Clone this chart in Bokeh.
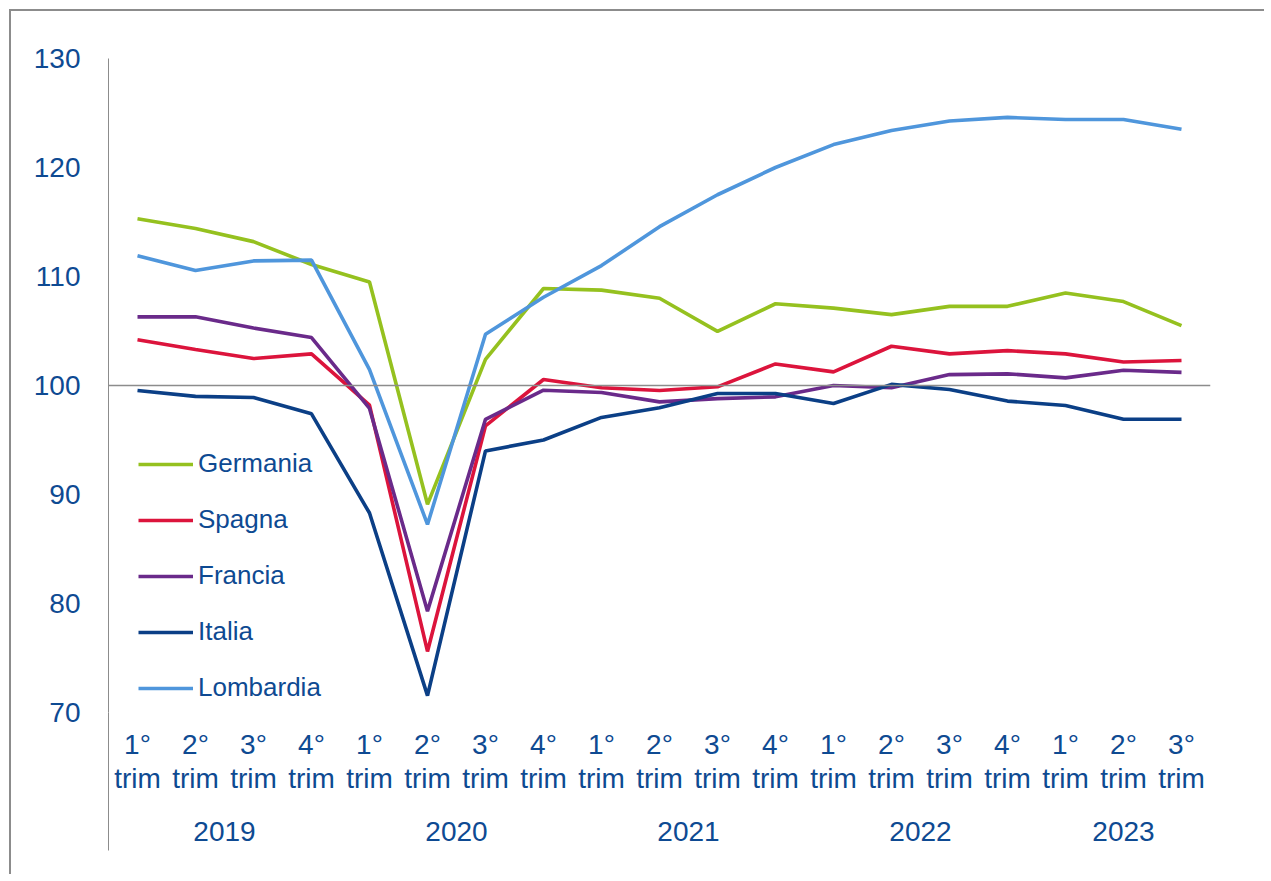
from bokeh.plotting import figure
from bokeh.models import Range1d, FixedTicker, LinearAxis, Span, Legend, LegendItem
from bokeh.embed import file_html
from bokeh.resources import INLINE

# ---- data ----
quarter_labels = ["1°\ntrim", "2°\ntrim", "3°\ntrim", "4°\ntrim",
                  "1°\ntrim", "2°\ntrim", "3°\ntrim", "4°\ntrim",
                  "1°\ntrim", "2°\ntrim", "3°\ntrim", "4°\ntrim",
                  "1°\ntrim", "2°\ntrim", "3°\ntrim", "4°\ntrim",
                  "1°\ntrim", "2°\ntrim", "3°\ntrim"]
years = ["2019", "2020", "2021", "2022", "2023"]
quarters_per_year = [4, 4, 4, 4, 3]

germania = [115.3, 114.4, 113.2, 111.1, 109.5, 89.1, 102.4, 108.9, 108.75, 108.0,
            104.97, 107.5, 107.1, 106.5, 107.26, 107.26, 108.48, 107.7, 105.5]
spagna = [104.2, 103.3, 102.47, 102.9, 98.2, 75.6, 96.3, 100.55, 99.8, 99.54,
          99.88, 101.98, 101.25, 103.6, 102.9, 103.2, 102.9, 102.16, 102.3]
francia = [106.3, 106.3, 105.27, 104.4, 97.9, 79.3, 96.9, 99.57, 99.36, 98.5,
           98.8, 98.96, 100.0, 99.8, 101.0, 101.07, 100.7, 101.4, 101.2]
italia = [99.54, 99.0, 98.9, 97.4, 88.3, 71.55, 94.0, 95.0, 97.07, 97.96,
          99.27, 99.27, 98.35, 100.1, 99.63, 98.57, 98.17, 96.9, 96.9]
lombardia = [111.9, 110.55, 111.43, 111.5, 101.46, 87.25, 104.7, 108.1, 111.0, 114.57,
             117.5, 120.0, 122.1, 123.4, 124.27, 124.6, 124.4, 124.4, 123.5]

series_names = ["Germania", "Spagna", "Francia", "Italia", "Lombardia"]
series_values = [germania, spagna, francia, italia, lombardia]
series_colors = ["#95C11F", "#DC143C", "#6A2A8A", "#0B3F86", "#4F96DC"]

y_ticks = [70, 80, 90, 100, 110, 120, 130]

# ---- derived ----
x = list(range(len(quarter_labels)))
year_centers = []
start = 0
for n in quarters_per_year:
    year_centers.append(start + (n - 1) / 2)
    start += n

TEXT = "#0E4A92"
GREY = "#8C8C8C"
FONT = "Liberation Sans"

p = figure(width=1255, height=865,
           x_range=Range1d(-0.5, len(x) - 0.5), y_range=Range1d(70, 130),
           output_backend="svg", toolbar_location=None,
           min_border_left=97, min_border_right=56, min_border_top=47, min_border_bottom=164)
p.margin = (9, 0, 0, 9)
p.styles = {"border-top": f"2px solid {GREY}", "border-left": f"2px solid {GREY}"}
p.outline_line_color = None
p.xgrid.visible = False
p.ygrid.visible = False
p.background_fill_color = "white"
p.border_fill_color = "white"

# y axis
ya = p.yaxis[0]
ya.ticker = FixedTicker(ticks=y_ticks)
ya.axis_line_color = GREY
ya.axis_line_width = 1
ya.major_tick_line_color = None
ya.minor_tick_line_color = None
ya.major_tick_out = 0
ya.major_tick_in = 0
ya.major_label_text_font = FONT
ya.major_label_text_font_size = "28px"
ya.major_label_text_color = TEXT
ya.major_label_standoff = 28

# x axis (quarters)
TICK_LEN = 138
xa = p.xaxis[0]
xa.ticker = FixedTicker(ticks=x, minor_ticks=[-0.5])
xa.major_label_overrides = {i: quarter_labels[i] for i in x}
xa.axis_line_color = None
xa.major_tick_line_color = None
xa.major_tick_out = 0
xa.major_tick_in = 0
xa.minor_tick_line_color = GREY
xa.minor_tick_out = TICK_LEN
xa.minor_tick_in = 0
xa.major_label_text_font = FONT
xa.major_label_text_font_size = "28px"
xa.major_label_text_color = TEXT
xa.major_label_text_line_height = 1.12
xa.major_label_standoff = 16 - TICK_LEN

# x axis (years)
ya2 = LinearAxis(ticker=FixedTicker(ticks=year_centers),
                 major_label_overrides={c: y for c, y in zip(year_centers, years)})
ya2.axis_line_color = None
ya2.major_tick_line_color = None
ya2.minor_tick_line_color = None
ya2.major_tick_out = 0
ya2.major_tick_in = 0
ya2.major_label_text_font = FONT
ya2.major_label_text_font_size = "28px"
ya2.major_label_text_color = TEXT
ya2.major_label_standoff = 24
p.add_layout(ya2, "below")

# reference line at 100
p.add_layout(Span(location=100, dimension="width", line_color=GREY, line_width=1.5))

items = []
for name, vals, col in zip(series_names, series_values, series_colors):
    r = p.line(x, vals, line_color=col, line_width=3.6)
    items.append(LegendItem(label=name, renderers=[r]))

legend = Legend(items=items, location=(30, 9), orientation="vertical",
                border_line_color=None, background_fill_alpha=0,
                label_text_font=FONT, label_text_font_size="26px",
                label_text_color=TEXT, glyph_width=55, glyph_height=30,
                label_height=30, spacing=25, padding=0, margin=0, label_standoff=5)
p.add_layout(legend)

open("out.html", "w").write(file_html(p, INLINE))
